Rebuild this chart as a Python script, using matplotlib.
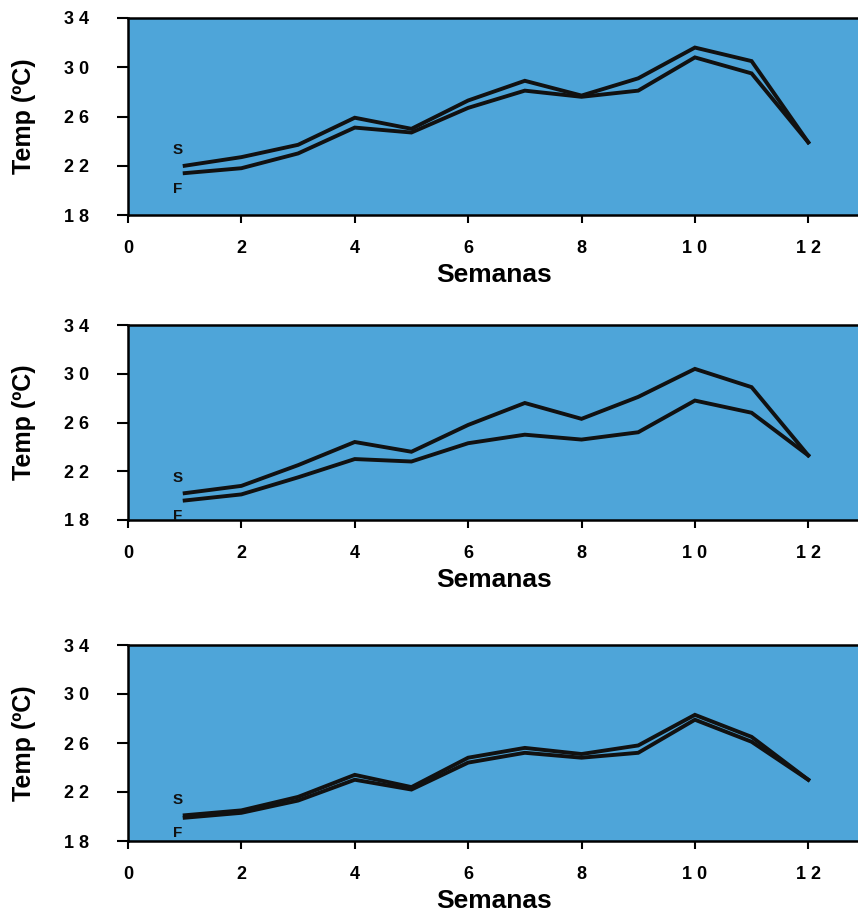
import matplotlib.pyplot as plt

semanas = [1, 2, 3, 4, 5, 6, 7, 8, 9, 10, 11, 12]

# panel 1
s1 = [22.0, 22.7, 23.7, 25.9, 25.0, 27.3, 28.9, 27.7, 29.1, 31.6, 30.5, 23.9]
f1 = [21.4, 21.8, 23.0, 25.1, 24.7, 26.7, 28.1, 27.6, 28.1, 30.8, 29.5, 23.9]
# panel 2
s2 = [20.2, 20.8, 22.5, 24.4, 23.6, 25.8, 27.6, 26.3, 28.1, 30.4, 28.9, 23.3]
f2 = [19.6, 20.1, 21.5, 23.0, 22.8, 24.3, 25.0, 24.6, 25.2, 27.8, 26.8, 23.3]
# panel 3
s3 = [20.1, 20.5, 21.6, 23.4, 22.4, 24.8, 25.6, 25.1, 25.8, 28.3, 26.5, 23.0]
f3 = [19.9, 20.3, 21.3, 23.0, 22.2, 24.4, 25.2, 24.8, 25.2, 27.9, 26.1, 23.0]

xticks = [0, 2, 4, 6, 8, 10, 12]
xticklabels = ["0", "2", "4", "6", "8", "1 0", "1 2"]
yticks = [18, 22, 26, 30, 34]
yticklabels = ["1 8", "2 2", "2 6", "3 0", "3 4"]

plt.rcParams['font.family'] = ['Liberation Sans', 'DejaVu Sans']

fig = plt.figure(figsize=(8.58, 9.15), dpi=100)

# axes boxes in figure pixels: (top, bottom)
boxes = [(18, 215), (325, 520), (645, 841)]
W, H = 858.0, 915.0
left_px, right_px = 128, 861

for (top, bot), s, f in zip(boxes, [s1, s2, s3], [f1, f2, f3]):
    ax = fig.add_axes([left_px / W, 1 - bot / H, (right_px - left_px) / W, (bot - top) / H])
    ax.set_facecolor('#4ea5d9')
    ax.plot(semanas, s, color='#111111', lw=2.8, solid_joinstyle='miter')
    ax.plot(semanas, f, color='#111111', lw=2.8, solid_joinstyle='miter')
    ax.text(semanas[0] - 0.12, s[0] + 0.7, "S", fontsize=11, fontweight='bold',
            ha='center', va='bottom', color='#111111')
    ax.text(semanas[0] - 0.12, f[0] - 0.7, "F", fontsize=11, fontweight='bold',
            ha='center', va='top', color='#111111')
    ax.set_xlim(0, 12.93)
    ax.set_ylim(18, 34)
    ax.set_xticks(xticks)
    ax.set_xticklabels(xticklabels, fontsize=13, fontweight='bold')
    ax.set_yticks(yticks)
    ax.set_yticklabels(yticklabels, fontsize=13, fontweight='bold')
    ax.tick_params(axis='y', length=8, width=1.5, pad=20)
    ax.tick_params(axis='x', length=6, width=1.5, pad=12)
    for sp in ax.spines.values():
        sp.set_linewidth(1.8)
    ax.spines['right'].set_visible(False)
    ax.set_xlabel("Semanas", fontsize=19, fontweight='bold', labelpad=4)
    ax.set_ylabel("Temp (ºC)", fontsize=18, fontweight='bold', labelpad=20)

fig.savefig("out.png", dpi=100)
